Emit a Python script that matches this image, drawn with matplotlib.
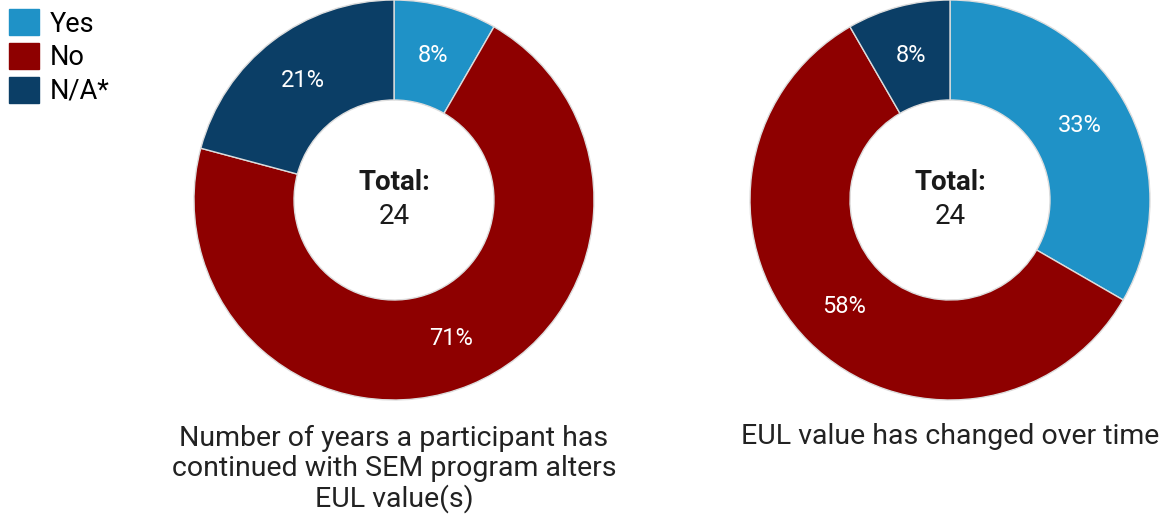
import matplotlib
matplotlib.use("Agg")
import matplotlib.pyplot as plt
from matplotlib.patches import Patch

plt.rcParams['font.family'] = ['Roboto', 'DejaVu Sans']

categories = ["Yes", "No", "N/A*"]
colors = ["#1f92c7", "#8e0000", "#0b3e66"]
left_counts = [2, 17, 5]
right_counts = [8, 14, 2]
left_title = "Number of years a participant has\ncontinued with SEM program alters\nEUL value(s)"
right_title = "EUL value has changed over time"
total_label = "Total:"

W, H = 1159, 518
fig = plt.figure(figsize=(W / 100, H / 100), dpi=100)

def donut(cx, cy, r, counts, title, title_y):
    ax = fig.add_axes([(cx - r) / W, 1 - (cy + r) / H, 2 * r / W, 2 * r / H])
    wedges, texts, autotexts = ax.pie(
        counts, colors=colors, startangle=90, counterclock=False,
        radius=1, autopct=lambda p: f"{p:.0f}%", pctdistance=0.75,
        wedgeprops=dict(width=0.5, edgecolor="#dddddd", linewidth=1),
        textprops=dict(color="white", fontsize=17))
    ax.set_xlim(-1, 1)
    ax.set_ylim(-1, 1)
    ax.set_aspect("equal")
    ax.axis("off")
    total = sum(counts)
    ax.text(0, 0.09, total_label, ha="center", va="center", fontsize=20,
            fontweight="bold", color="#1a1a1a")
    ax.text(0, -0.085, str(total), ha="center", va="center", fontsize=20,
            color="#1a1a1a")
    fig.text(cx / W, 1 - title_y / H, title, ha="center", va="center",
             fontsize=20.5, color="#222222", linespacing=1.12)

donut(394, 200, 200, left_counts, left_title, 469)
donut(950, 200, 200, right_counts, right_title, 437)

handles = [Patch(facecolor=c, edgecolor=c) for c in colors]
fig.legend(handles, categories, loc="upper left", bbox_to_anchor=(0, 1),
           frameon=False, fontsize=19.5, handlelength=1.1, handleheight=1.1,
           labelspacing=0.2, handletextpad=0.4, borderpad=0.35,
           borderaxespad=0.0)

fig.savefig("out.png", dpi=100)
